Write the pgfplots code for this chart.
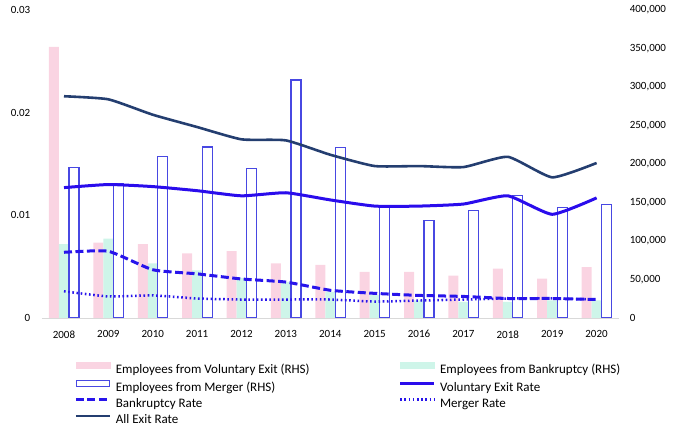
\documentclass[border=0pt]{standalone}
\usepackage{fontspec}
\setmainfont{Carlito}
\usepackage{pgfplots}
\pgfplotsset{compat=1.18}

\definecolor{volbar}{RGB}{250,212,226}
\definecolor{bkbar}{RGB}{206,245,233}
\definecolor{mgbar}{RGB}{72,72,226}
\definecolor{volline}{RGB}{42,12,236}
\definecolor{rateblue}{RGB}{40,20,235}
\definecolor{allexit}{RGB}{36,62,112}
\definecolor{basegray}{RGB}{217,217,217}

\pgfplotsset{
  chart/.style={
    width=577bp, height=308bp, scale only axis,
    xmin=2007.5, xmax=2020.5,
    /pgf/number format/assume math mode=true,
    tick label style={font=\fontsize{11bp}{13bp}\selectfont},
    major tick length=0pt,
    scaled y ticks=false,
  }
}

\begin{document}
\begin{tikzpicture}
\path[use as bounding box] (-41.8bp,-116bp) rectangle (632.2bp,318bp);

% employees (right axis)
\begin{axis}[chart,
  ymin=0, ymax=400000, ytick={0,50000,...,400000},
  axis x line*=bottom, axis y line*=right,
  x axis line style={draw=basegray, line width=0.9bp, -},
  y axis line style={draw=none},
  xtick={2008,...,2020},
  xticklabel style={/pgf/number format/fixed, /pgf/number format/1000 sep={}, yshift=-9bp},
  yticklabel style={/pgf/number format/fixed, /pgf/number format/1000 sep={,}, xshift=7.5bp},
  ybar=0pt, bar width=10bp,
]
\addplot[fill=volbar, draw=none] coordinates {
(2008,352000) (2009,98000) (2010,96000) (2011,84000) (2012,87000)
(2013,71000) (2014,69000) (2015,60000) (2016,60000) (2017,55000)
(2018,64000) (2019,51000) (2020,66000)};
\addplot[fill=bkbar, draw=none] coordinates {
(2008,96000) (2009,103000) (2010,71000) (2011,62000) (2012,52000)
(2013,47000) (2014,34000) (2015,30000) (2016,23000) (2017,21000)
(2018,21000) (2019,23000) (2020,23000)};
\addplot[fill=white, draw=mgbar, line width=1.2bp] coordinates {
(2008,195000) (2009,175000) (2010,210000) (2011,222000) (2012,194000)
(2013,309000) (2014,221000) (2015,143000) (2016,127000) (2017,140000)
(2018,159000) (2019,143000) (2020,147000)};
\end{axis}

% rates (left axis)
\begin{axis}[chart,
  ymin=0, ymax=0.03, ytick={0,0.01,0.02,0.03},
  axis x line=none, xtick=\empty,
  axis y line*=left,
  y axis line style={draw=none},
  yticklabel style={/pgf/number format/fixed, /pgf/number format/precision=2, xshift=-8bp},
  legend columns=2,
  legend cell align=left,
  legend image code/.code={\draw (0bp,4.5bp) -- (34bp,4.5bp);},
  legend style={at={(0.0563,-0.1416)}, anchor=north west, draw=none, fill=none,
    inner sep=0pt, row sep=3.8bp,
    font=\fontsize{13bp}{15bp}\selectfont,
    nodes={inner sep=0pt, text height=9.5bp, text depth=3bp},
    /tikz/every odd column/.append style={column sep=4.4bp},
    /tikz/every even column/.append style={column sep=89bp}},
]
\addlegendimage{legend image code/.code={\fill[volbar] (0bp,1.2bp) rectangle (34bp,7.8bp);}}
\addlegendentry{Employees from Voluntary Exit (RHS)}
\addlegendimage{legend image code/.code={\fill[bkbar] (0bp,1.2bp) rectangle (34bp,7.8bp);}}
\addlegendentry{Employees from Bankruptcy (RHS)}
\addlegendimage{legend image code/.code={\draw[mgbar, line width=1.2bp] (0.6bp,1.6bp) rectangle (33.4bp,7.4bp);}}
\addlegendentry{Employees from Merger (RHS)}

\addplot[volline, line width=3bp, smooth, tension=0.3] coordinates {
(2008,0.0127) (2009,0.0130) (2010,0.0128) (2011,0.0124) (2012,0.0119)
(2013,0.0122) (2014,0.0115) (2015,0.0109) (2016,0.0109) (2017,0.0111)
(2018,0.0119) (2019,0.0101) (2020,0.0117)};
\addlegendentry{Voluntary Exit Rate}
\addplot[rateblue, line width=3bp, dash pattern=on 8bp off 3.5bp, smooth, tension=0.3] coordinates {
(2008,0.0064) (2009,0.0065) (2010,0.0047) (2011,0.0043) (2012,0.0038)
(2013,0.0035) (2014,0.0027) (2015,0.0024) (2016,0.0022) (2017,0.0021)
(2018,0.0019) (2019,0.0019) (2020,0.0018)};
\addlegendentry{Bankruptcy Rate}
\addplot[rateblue, line width=2.5bp, dash pattern=on 1.6bp off 2.6bp, smooth, tension=0.3] coordinates {
(2008,0.0026) (2009,0.0021) (2010,0.0022) (2011,0.0019) (2012,0.0018)
(2013,0.0018) (2014,0.0018) (2015,0.0016) (2016,0.0017) (2017,0.0018)
(2018,0.0019) (2019,0.0019) (2020,0.0018)};
\addlegendentry{Merger Rate}
\addplot[allexit, line width=2.6bp, smooth, tension=0.3] coordinates {
(2008,0.0216) (2009,0.0213) (2010,0.0198) (2011,0.0186) (2012,0.0174)
(2013,0.0173) (2014,0.0159) (2015,0.0148) (2016,0.0148) (2017,0.0147)
(2018,0.0157) (2019,0.0137) (2020,0.0151)};
\addlegendentry{All Exit Rate}
\end{axis}
\end{tikzpicture}
\end{document}
